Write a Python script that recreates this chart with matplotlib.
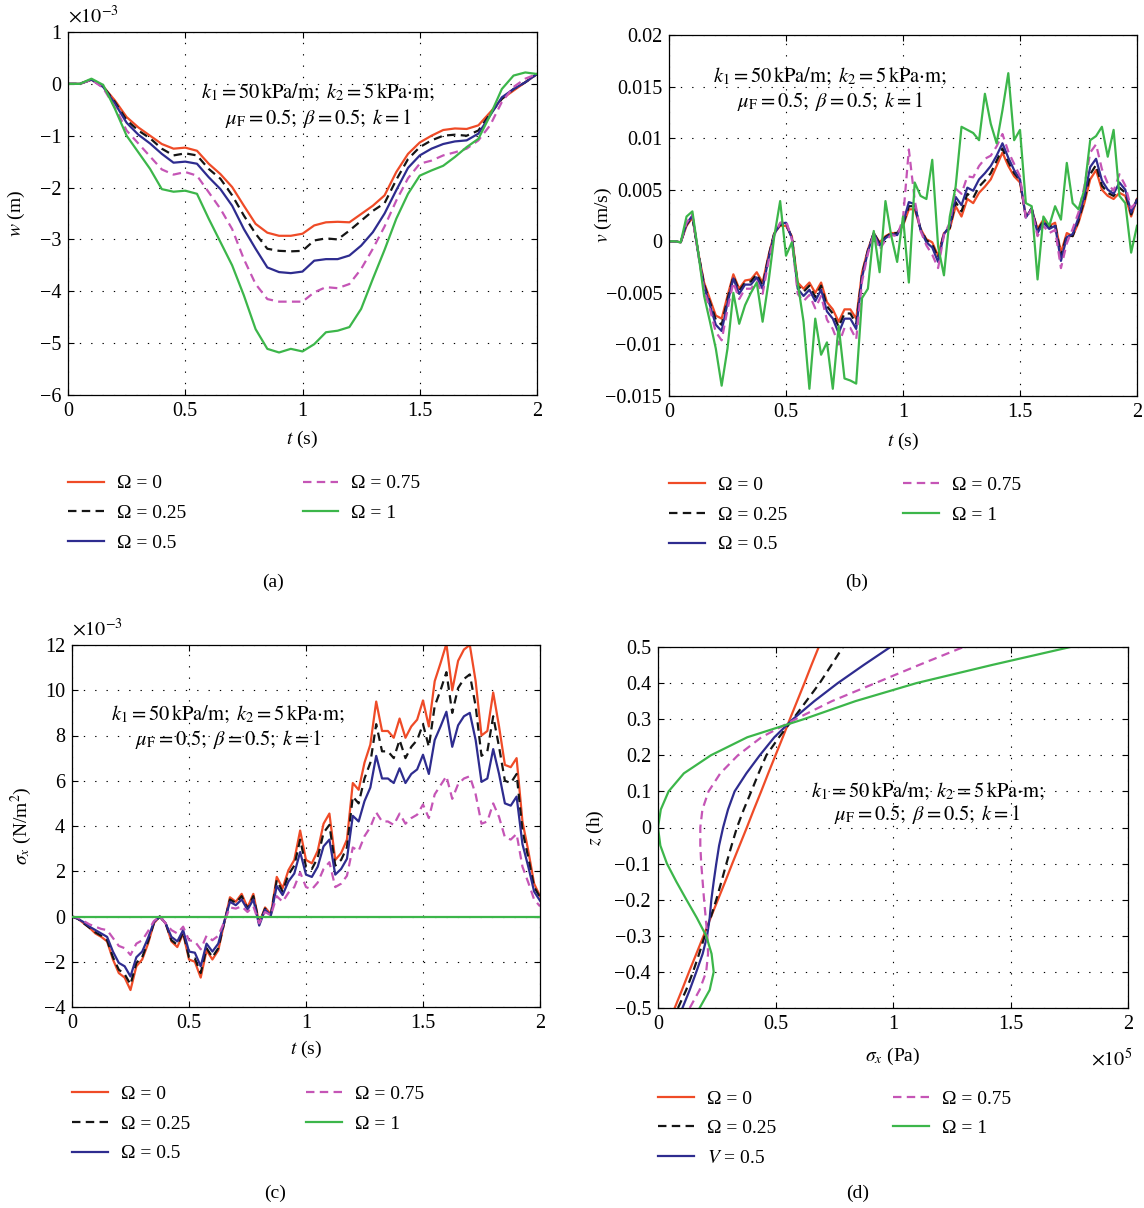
import numpy as np
import matplotlib
matplotlib.use('Agg')
import matplotlib.pyplot as plt

plt.rcParams['font.family'] = ['Liberation Serif', 'DejaVu Serif']
plt.rcParams['mathtext.fontset'] = 'stix'
plt.rcParams['axes.unicode_minus'] = True

# ---------------- data ----------------
labels = ['Ω = 0', 'Ω = 0.25', 'Ω = 0.5', 'Ω = 0.75', 'Ω = 1']
labels_d = ['Ω = 0', 'Ω = 0.25', '$V$ = 0.5', 'Ω = 0.75', 'Ω = 1']

# (a) deflection w (x 1e-3 m), t step 0.05 s
t_a = np.round(np.arange(41) * 0.05, 3)
w_0 = [0, 0, 0.08, -0.05, -0.32, -0.64, -0.84, -1.0, -1.16, -1.25, -1.23, -1.29, -1.54, -1.74, -1.99,
       -2.35, -2.7, -2.87, -2.93, -2.93, -2.89, -2.73, -2.67, -2.66, -2.67, -2.51, -2.35, -2.15, -1.70,
       -1.35, -1.13, -1.0, -0.89, -0.86, -0.87, -0.80, -0.55, -0.29, -0.13, 0.03, 0.19]
w_025 = [0, 0, 0.08, -0.05, -0.35, -0.7, -0.9, -1.05, -1.25, -1.38, -1.34, -1.38, -1.64, -1.83, -2.15,
         -2.54, -2.89, -3.18, -3.22, -3.23, -3.22, -3.02, -2.98, -3.0, -2.83, -2.64, -2.45, -2.3, -1.85,
         -1.45, -1.22, -1.09, -1.0, -0.98, -1.0, -0.9, -0.58, -0.29, -0.1, 0.03, 0.19]
w_05 = [0, 0, 0.08, -0.06, -0.38, -0.75, -0.98, -1.15, -1.35, -1.52, -1.50, -1.54, -1.80, -2.03, -2.35,
        -2.80, -3.18, -3.54, -3.63, -3.65, -3.62, -3.41, -3.38, -3.38, -3.31, -3.12, -2.86, -2.50, -2.05,
        -1.62, -1.38, -1.25, -1.16, -1.11, -1.09, -0.96, -0.61, -0.26, -0.1, 0.03, 0.19]
w_075 = [0, 0, 0.08, -0.08, -0.45, -0.9, -1.15, -1.4, -1.65, -1.75, -1.70, -1.77, -2.09, -2.41, -2.80,
         -3.38, -3.86, -4.15, -4.20, -4.20, -4.20, -4.02, -3.92, -3.94, -3.86, -3.57, -3.18, -2.75, -2.25,
         -1.82, -1.54, -1.48, -1.38, -1.32, -1.25, -1.09, -0.80, -0.35, -0.06, 0.1, 0.19]
w_1 = [0, 0, 0.1, -0.02, -0.48, -1.0, -1.32, -1.64, -2.03, -2.08, -2.06, -2.12, -2.60, -3.05, -3.50,
       -4.08, -4.73, -5.11, -5.18, -5.11, -5.16, -5.02, -4.79, -4.76, -4.69, -4.34, -3.76, -3.2, -2.6,
       -2.12, -1.77, -1.67, -1.58, -1.41, -1.22, -1.06, -0.61, -0.1, 0.16, 0.22, 0.19]

# (b) velocity v (x 1e-3 m/s), t step 0.025 s
t_b = np.round(np.arange(81) * 0.025, 4)
v_0 = [0, 0, -0.1, 1.5, 2.3, -1.1, -4.0, -5.6, -7.2, -7.5, -5.3, -3.2, -4.6, -3.8, -3.7, -3.0, -4.0, -1.4,
       0.8, 1.5, 1.5, 0.5, -4.0, -4.6, -4.0, -5.0, -4.0, -5.9, -6.6, -7.8, -6.6, -6.6, -7.5, -3.0, -0.8,
       0.8, -0.1, 0.5, 0.8, 0.8, 1.5, 3.1, 3.1, 1.2, 0.2, -0.1, -1.4, 0.8, 1.2, 3.4, 2.4, 4.1, 3.7, 4.7,
       5.3, 6.0, 7.3, 8.6, 7.3, 6.3, 5.7, 2.4, 3.1, 1.2, 2.1, 1.5, 1.8, -1.1, 0.8, 0.5, 1.8, 3.7, 6.0,
       6.9, 5.0, 4.4, 4.1, 4.7, 4.4, 2.4, 4.1]
v_025 = [0, 0, -0.1, 1.6, 2.4, -1.1, -4.2, -5.9, -7.6, -8.1, -5.6, -3.4, -4.8, -4.0, -3.9, -3.2, -4.3,
         -1.5, 0.8, 1.6, 1.6, 0.4, -4.3, -4.9, -4.3, -5.4, -4.3, -6.3, -7.0, -8.3, -7.0, -7.0, -8.0, -3.2,
         -0.9, 0.8, -0.2, 0.4, 0.8, 0.8, 1.6, 3.4, 3.4, 1.2, 0.1, -0.3, -1.6, 0.8, 1.3, 3.8, 2.9, 4.6,
         4.2, 5.3, 5.9, 6.6, 7.8, 9.0, 7.7, 6.6, 5.9, 2.4, 3.2, 1.0, 2.0, 1.4, 1.7, -1.4, 0.6, 0.5, 2.0,
         4.0, 6.5, 7.4, 5.4, 4.7, 4.4, 5.2, 4.7, 2.6, 4.1]
v_05 = [0, 0, -0.1, 1.7, 2.5, -1.2, -4.4, -6.2, -8.1, -8.7, -6.0, -3.6, -5.1, -4.2, -4.2, -3.5, -4.6,
        -1.7, 0.7, 1.7, 1.8, 0.3, -4.6, -5.3, -4.7, -5.8, -4.7, -6.8, -7.5, -8.9, -7.5, -7.5, -8.5, -3.5,
        -1.0, 0.8, -0.4, 0.3, 0.7, 0.6, 1.8, 3.8, 3.6, 1.1, -0.1, -0.6, -2.0, 0.7, 1.5, 4.3, 3.5, 5.2,
        4.9, 6.0, 6.6, 7.3, 8.3, 9.5, 8.1, 6.9, 6.0, 2.3, 3.2, 0.8, 1.8, 1.2, 1.5, -1.9, 0.4, 0.7, 2.3,
        4.4, 7.2, 8.0, 5.9, 5.0, 4.6, 5.7, 5.0, 2.8, 4.0]
v_075 = [0, 0, -0.1, 1.8, 2.6, -1.3, -4.7, -6.6, -8.8, -9.6, -6.6, -4.0, -5.6, -4.6, -4.6, -3.9, -5.1,
         -2.0, 0.6, 1.8, 2.0, 0.2, -5.1, -5.8, -5.2, -6.5, -5.3, -7.6, -8.5, -10.0, -8.4, -8.4, -9.5,
         -3.9, -1.2, 0.7, -0.8, 0.1, 0.6, 0.5, 2.2, 8.9, 4.0, 1.0, -0.4, -1.3, -2.6, 0.6, 1.8, 5.1, 4.6,
         6.3, 6.2, 7.3, 8.0, 8.3, 9.2, 10.4, 8.7, 7.5, 6.3, 2.2, 3.1, 0.5, 1.5, 0.8, 1.1, -2.6, -0.2, 1.2,
         2.8, 5.3, 8.6, 9.4, 7.0, 5.6, 4.9, 6.5, 5.4, 3.2, 3.9]
v_1 = [0, 0, -0.1, 2.4, 2.9, -1.1, -5.3, -7.8, -10.4, -14.0, -10.4, -5.0, -8.0, -6.2, -5.0, -4.0, -7.8,
       -4.0, 0.5, 3.9, -1.4, -0.1, -4.0, -7.8, -14.3, -7.5, -11.0, -9.8, -14.3, -8.2, -13.3, -13.5,
       -13.8, -5.5, -4.6, 1.0, -3.0, 3.9, 0.5, -2.0, 2.4, -4.0, 5.7, 4.4, 4.1, 7.9, -0.5, -3.3, 2.4, 5.3,
       11.1, 10.8, 10.5, 9.8, 14.3, 11.4, 9.5, 12.7, 16.3, 9.8, 10.8, 3.7, 3.4, -3.7, 2.4, 1.5, 3.4, 2.1,
       7.6, 3.7, 3.1, 5.0, 9.8, 10.2, 11.1, 8.2, 10.8, 4.4, 3.7, -1.1, 1.5]

# (c) stress sigma_x (x 1e-3 N/m^2), t step 0.025 s
t_c = np.round(np.arange(81) * 0.025, 4)
s_0 = [0, -0.1, -0.3, -0.5, -0.75, -0.9, -1.1, -1.9, -2.5, -2.7, -3.25, -2.2, -1.9, -1.2, -0.3, 0.0,
       -0.3, -1.1, -1.35, -0.75, -1.9, -2.0, -2.7, -1.5, -1.9, -1.5, -0.3, 0.85, 0.65, 1.0, 0.4, 1.0,
       -0.3, 0.4, 0.1, 1.75, 1.25, 2.05, 2.5, 3.8, 2.5, 2.35, 2.9, 4.1, 4.55, 2.5, 2.8, 3.4, 5.9, 5.6,
       6.8, 7.6, 9.5, 8.2, 8.2, 7.9, 8.75, 7.9, 8.4, 8.7, 9.55, 8.4, 10.4, 11.2, 12.05, 10.0, 11.3,
       11.8, 12.0, 10.4, 8.0, 8.2, 9.9, 8.4, 6.7, 6.6, 7.0, 4.2, 2.9, 1.45, 0.9]
s_025 = [0, -0.1, -0.3, -0.5, -0.7, -0.85, -1.05, -1.8, -2.35, -2.55, -3.0, -2.05, -1.8, -1.1, -0.3,
         0.0, -0.3, -1.05, -1.25, -0.7, -1.8, -1.85, -2.5, -1.4, -1.8, -1.4, -0.3, 0.75, 0.6, 0.9, 0.35,
         0.9, -0.3, 0.35, 0.1, 1.6, 1.1, 1.85, 2.25, 3.4, 2.2, 2.1, 2.6, 3.7, 4.05, 2.25, 2.5, 3.05,
         5.3, 5.0, 6.1, 6.8, 8.5, 7.3, 7.3, 7.0, 7.8, 7.0, 7.5, 7.8, 8.5, 7.5, 9.3, 10.0, 10.8, 9.0,
         10.1, 10.5, 10.7, 9.3, 7.1, 7.3, 8.85, 7.5, 6.0, 5.9, 6.3, 3.8, 2.6, 1.3, 0.85]
s_05 = [0, -0.1, -0.25, -0.45, -0.6, -0.75, -0.9, -1.55, -2.05, -2.2, -2.65, -1.8, -1.55, -0.95, -0.25,
        0.0, -0.3, -0.9, -1.1, -0.6, -1.55, -1.6, -2.2, -1.2, -1.55, -1.2, -0.25, 0.65, 0.5, 0.75, 0.3,
        0.75, -0.4, 0.3, 0.05, 1.35, 0.95, 1.55, 1.9, 2.85, 1.85, 1.75, 2.2, 3.1, 3.4, 1.85, 2.1, 2.55,
        4.45, 4.2, 5.1, 5.7, 7.1, 6.1, 6.1, 5.9, 6.55, 5.9, 6.3, 6.5, 7.15, 6.3, 7.8, 8.4, 9.05, 7.5,
        8.45, 8.85, 9.0, 7.8, 5.95, 6.1, 7.4, 6.3, 5.0, 4.9, 5.3, 3.2, 2.2, 1.1, 0.7]
s_075 = [0, -0.05, -0.2, -0.35, -0.45, -0.55, -0.6, -0.95, -1.3, -1.4, -1.7, -1.2, -1.05, -0.65, -0.2,
         0.0, -0.3, -0.6, -0.75, -0.45, -1.05, -1.1, -1.45, -0.85, -1.05, -0.85, -0.25, 0.4, 0.35, 0.45,
         0.2, 0.45, -0.3, 0.2, 0.05, 0.9, 0.65, 1.05, 1.3, 1.95, 1.3, 1.2, 1.5, 2.1, 2.4, 1.3, 1.45, 1.8,
         3.05, 2.9, 3.55, 3.95, 4.6, 4.2, 4.2, 4.05, 4.55, 4.1, 4.35, 4.5, 4.95, 4.35, 5.4, 5.8, 6.2,
         5.2, 5.85, 6.1, 6.2, 5.4, 4.1, 4.2, 5.0, 4.4, 3.5, 3.4, 3.65, 2.2, 1.5, 0.75, 0.45]
s_1 = [0.0] * 81

# (d) sigma_x profile (x 1e5 Pa) vs z (h), z step 0.05
z_d = np.round(np.arange(21) * 0.05 - 0.5, 3)
p_0 = [0.071, 0.102, 0.132, 0.163, 0.194, 0.224, 0.255, 0.286, 0.316, 0.347, 0.378, 0.408, 0.439,
       0.469, 0.500, 0.531, 0.561, 0.592, 0.623, 0.653, 0.684]
p_025 = [0.085, 0.12, 0.149, 0.175, 0.199, 0.224, 0.248, 0.27, 0.291, 0.313, 0.336, 0.365, 0.397,
         0.428, 0.461, 0.515, 0.574, 0.631, 0.688, 0.738, 0.787]
p_05 = [0.104, 0.135, 0.163, 0.19, 0.209, 0.22, 0.227, 0.237, 0.248, 0.26, 0.277, 0.298, 0.326, 0.376,
        0.433, 0.495, 0.574, 0.665, 0.765, 0.875, 0.989]
p_075 = [0.135, 0.177, 0.205, 0.213, 0.21, 0.203, 0.196, 0.19, 0.184, 0.18, 0.18, 0.189, 0.215, 0.265,
         0.34, 0.44, 0.585, 0.74, 0.925, 1.11, 1.3]
p_1 = [0.177, 0.22, 0.237, 0.228, 0.205, 0.165, 0.121, 0.078, 0.038, 0.01, 0.0, 0.012, 0.045, 0.11,
       0.225, 0.38, 0.62, 0.84, 1.1, 1.42, 1.755]

# ---------------- styles ----------------
RED = '#ef4b27'
BLACK = '#151515'
BLUE = '#2e2c8f'
MAG = '#c555b6'
GREEN = '#3cb64a'
colors = [RED, BLACK, BLUE, MAG, GREEN]
DASH = (0, (3.8, 2.4))
styles = ['-', DASH, '-', DASH, '-']
LW = 1.6
FS = 14.5      # tick labels
FL = 14.0      # legend / axis labels
FN = 14.8      # notes

fig = plt.figure(figsize=(11.44, 12.08), dpi=100)
W, H = 1144, 1208


def make_ax(l, r, t, b):
    return fig.add_axes([l / W, 1 - b / H, (r - l) / W, (b - t) / H])


def style(ax):
    ax.tick_params(direction='in', top=True, right=True, length=4, width=0.8,
                   labelsize=FS, pad=5)
    ax.grid(True, linestyle=(0, (1.2, 9)), color='k', linewidth=0.8)
    for sp in ax.spines.values():
        sp.set_linewidth(0.9)


def add_legend(ax, handles, labs, y):
    kw = dict(frameon=False, fontsize=FL, handlelength=1.85, handletextpad=0.65,
              labelspacing=0.62, borderaxespad=0, borderpad=0, loc='upper left')
    l1 = ax.legend(handles[:3], labs[:3], bbox_to_anchor=(0.0, y), **kw)
    ax.add_artist(l1)
    ax.legend(handles[3:], labs[3:], bbox_to_anchor=(0.5, y), **kw)


def labels_xy(ax, xl, yl, xpos, ypos):
    ax.set_xlabel(xl, fontsize=FL)
    ax.set_ylabel(yl, fontsize=FL)
    ax.xaxis.set_label_coords(0.5, xpos)
    ax.yaxis.set_label_coords(ypos, 0.5)


note1 = r'$k_1 = 50\,\mathrm{kPa/m};\; k_2 = 5\,\mathrm{kPa{\cdot}m};$'
note2 = r'$\mu_\mathrm{F} = 0.5;\; \beta = 0.5;\; k = 1$'


def fmt(vals):
    return [('%g' % v).replace('-', '\u2212') for v in vals]


t_ticks = [0, 0.5, 1, 1.5, 2]

# ---- (a)
ax = make_ax(68, 537, 32, 395)
series = [w_0, w_025, w_05, w_075, w_1]
hs = []
for ys, c, ls in zip(series, colors, styles):
    h, = ax.plot(t_a, ys, color=c, linestyle=ls, lw=LW)
    hs.append(h)
ax.set_xlim(0, 2)
ax.set_ylim(-6, 1)
ax.set_xticks(t_ticks)
ax.set_xticklabels(fmt(t_ticks))
yt = [-6, -5, -4, -3, -2, -1, 0, 1]
ax.set_yticks(yt)
ax.set_yticklabels(fmt(yt))
style(ax)
labels_xy(ax, r'$t$ (s)', r'$w$ (m)', -0.092, -0.087)
ax.text(0.0, 1.012, r'$\times10^{-3}$', transform=ax.transAxes, fontsize=FS, ha='left', va='bottom')
ax.text(0.533, 0.832, note1, transform=ax.transAxes, fontsize=FN, ha='center', va='center')
ax.text(0.533, 0.763, note2, transform=ax.transAxes, fontsize=FN, ha='center', va='center')
add_legend(ax, hs, labels, -0.22)

# ---- (b)
ax = make_ax(669, 1137, 35, 396)
series = [v_0, v_025, v_05, v_075, v_1]
hs = []
for ys, c, ls in zip(series, colors, styles):
    h, = ax.plot(t_b, np.array(ys) / 1000.0, color=c, linestyle=ls, lw=LW)
    hs.append(h)
ax.set_xlim(0, 2)
ax.set_ylim(-0.015, 0.02)
ax.set_xticks(t_ticks)
ax.set_xticklabels(fmt(t_ticks))
yt = [-0.015, -0.01, -0.005, 0, 0.005, 0.01, 0.015, 0.02]
ax.set_yticks(yt)
ax.set_yticklabels(fmt(yt))
style(ax)
labels_xy(ax, r'$t$ (s)', r'$v$ (m/s)', -0.097, -0.1175)
ax.text(0.344, 0.886, note1, transform=ax.transAxes, fontsize=FN, ha='center', va='center')
ax.text(0.344, 0.817, note2, transform=ax.transAxes, fontsize=FN, ha='center', va='center')
add_legend(ax, hs, labels, -0.223)

# ---- (c)
ax = make_ax(72, 540, 645, 1007)
series = [s_0, s_025, s_05, s_075, s_1]
handles = []
for i in range(5):
    h, = ax.plot(t_c, series[i], color=colors[i], linestyle=styles[i], lw=LW,
                 zorder=3 if i == 4 else 2)
    handles.append(h)
ax.set_xlim(0, 2)
ax.set_ylim(-4, 12)
ax.set_xticks(t_ticks)
ax.set_xticklabels(fmt(t_ticks))
yt = [-4, -2, 0, 2, 4, 6, 8, 10, 12]
ax.set_yticks(yt)
ax.set_yticklabels(fmt(yt))
style(ax)
labels_xy(ax, r'$t$ (s)', r'$\sigma_x$ (N/m$^2$)', -0.088, -0.081)
ax.text(0.0, 1.012, r'$\times10^{-3}$', transform=ax.transAxes, fontsize=FS, ha='left', va='bottom')
ax.text(0.333, 0.809, note1, transform=ax.transAxes, fontsize=FN, ha='center', va='center')
ax.text(0.333, 0.738, note2, transform=ax.transAxes, fontsize=FN, ha='center', va='center')
add_legend(ax, handles, labels, -0.217)

# ---- (d)
ax = make_ax(658, 1128, 647, 1008)
series = [p_0, p_025, p_05, p_075, p_1]
hs = []
for xs, c, ls in zip(series, colors, styles):
    h, = ax.plot(xs, z_d, color=c, linestyle=ls, lw=LW)
    hs.append(h)
ax.set_xlim(0, 2)
ax.set_ylim(-0.5, 0.5)
ax.set_xticks(t_ticks)
ax.set_xticklabels(fmt(t_ticks))
yt = [-0.5, -0.4, -0.3, -0.2, -0.1, 0, 0.1, 0.2, 0.3, 0.4, 0.5]
ax.set_yticks(yt)
ax.set_yticklabels(fmt(yt))
style(ax)
labels_xy(ax, r'$\sigma_x$ (Pa)', r'$z$ (h)', -0.105, -0.111)
ax.text(1.01, -0.145, r'$\times10^{5}$', transform=ax.transAxes, fontsize=FS, ha='right', va='center')
ax.text(0.574, 0.601, note1, transform=ax.transAxes, fontsize=FN, ha='center', va='center')
ax.text(0.574, 0.535, note2, transform=ax.transAxes, fontsize=FN, ha='center', va='center')
add_legend(ax, hs, labels_d, -0.227)

# captions
for x, y, s in [(273, 582, '(a)'), (857, 582, '(b)'), (275, 1193, '(c)'), (858, 1193, '(d)')]:
    fig.text(x / W, 1 - y / H, s, fontsize=FL, ha='center', va='center')

fig.savefig('out.png', dpi=100)
